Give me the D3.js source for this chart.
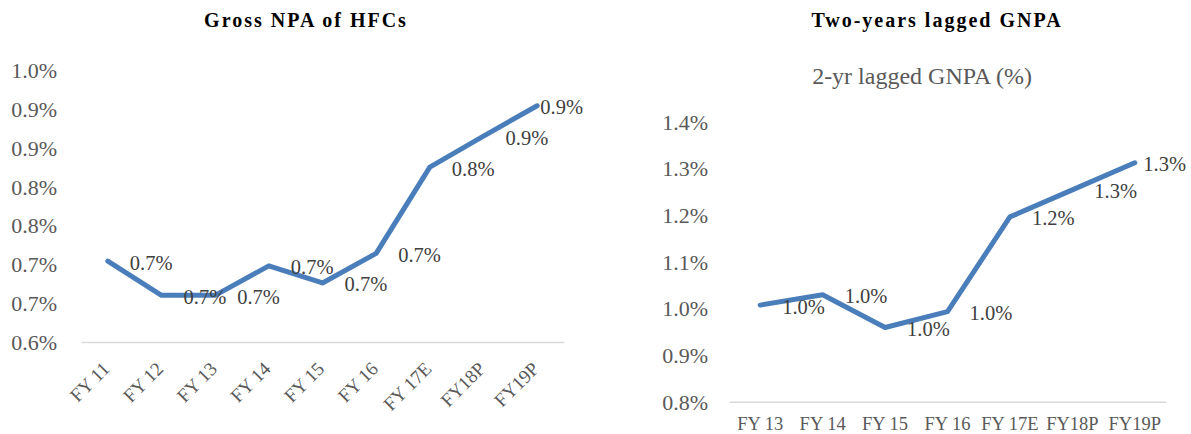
<!DOCTYPE html>
<html>
<head>
<meta charset="utf-8">
<script src="https://cdn.jsdelivr.net/npm/d3@7"></script>
<style>
  body { margin: 0; background: #fff; }
  svg text { font-family: "Liberation Serif", "DejaVu Serif", serif; }
</style>
</head>
<body>
<div id="chart"></div>
<script>
/* data */
const leftCategories = ["FY 11", "FY 12", "FY 13", "FY 14", "FY 15", "FY 16", "FY 17E", "FY18P", "FY19P"];
const leftValues = [0.704, 0.66, 0.66, 0.698, 0.676, 0.714, 0.825, 0.865, 0.904];
const leftTicks = [0.6, 0.65, 0.7, 0.75, 0.8, 0.85, 0.9, 0.95];
const leftTickLabels = ["0.6%", "0.7%", "0.7%", "0.8%", "0.8%", "0.9%", "0.9%", "1.0%"];

const rightCategories = ["FY 13", "FY 14", "FY 15", "FY 16", "FY 17E", "FY18P", "FY19P"];
const rightValues = [1.007, 1.029, 0.959, 0.993, 1.196, 1.254, 1.312];
const rightTicks = [0.8, 0.9, 1.0, 1.1, 1.2, 1.3, 1.4];
const rightTickLabels = ["0.8%", "0.9%", "1.0%", "1.1%", "1.2%", "1.3%", "1.4%"];

const width = 1191;
const height = 434;
const lineColor = "#4a7ebb";
const tickColor = "#595959";
const labelColor = "#404040";
const serif = "'Liberation Serif', 'DejaVu Serif', serif";
const fmt = d3.format(".1f");

const svg = d3
  .select("#chart")
  .append("svg")
  .attr("width", width)
  .attr("height", height)
  .attr("font-family", serif);

svg.append("rect").attr("width", width).attr("height", height).attr("fill", "#fff");

function drawPanel(opts) {
  const x = d3
    .scaleBand()
    .domain(opts.categories)
    .range(opts.xRange)
    .paddingInner(0)
    .paddingOuter(0);
  const y = d3.scaleLinear().domain(opts.yDomain).range(opts.yRange);

  /* title */
  svg
    .append("text")
    .attr("x", opts.titleX)
    .attr("y", 27)
    .attr("text-anchor", "middle")
    .style("font-size", "20px")
    .style("font-weight", "bold")
    .style("letter-spacing", "2px")
    .attr("fill", "#000")
    .text(opts.title);

  /* y axis labels only */
  svg
    .append("g")
    .attr("transform", `translate(${opts.yLabelX},0)`)
    .call(
      d3
        .axisLeft(y)
        .tickValues(opts.ticks)
        .tickSize(0)
        .tickPadding(0)
        .tickFormat((d, i) => opts.tickLabels[i])
    )
    .attr("font-family", serif)
    .call((g) => g.select(".domain").remove())
    .selectAll("text")
    .attr("fill", tickColor)
    .attr("dy", "0.34em")
    .style("font-size", "22px");

  /* x axis */
  const xg = svg
    .append("g")
    .attr("transform", `translate(0,${opts.yRange[0]})`)
    .call(d3.axisBottom(x).tickSize(0).tickSizeOuter(0).tickPadding(opts.xPad))
    .attr("font-family", serif);
  xg.select(".domain").attr("stroke", "#d9d9d9").attr("stroke-width", 1.5);
  const xt = xg
    .selectAll("text")
    .attr("fill", tickColor)
    .style("font-size", "18.5px");
  if (opts.rotate) {
    xt.attr("y", 0)
      .attr("dy", 0)
      .attr("text-anchor", "end")
      .style("font-size", "19px")
      .attr("transform", "translate(3,28) rotate(-45)");
  }

  /* the line */
  const cx = (d, i) => x(opts.categories[i]) + x.bandwidth() / 2;
  svg
    .append("path")
    .datum(opts.values)
    .attr("fill", "none")
    .attr("stroke", lineColor)
    .attr("stroke-width", 5)
    .attr("stroke-linejoin", "round")
    .attr("stroke-linecap", "round")
    .attr("d", d3.line().x(cx).y((d) => y(d)));

  /* data labels, right of each point, pulled back inside the chart area */
  svg
    .append("g")
    .selectAll("text")
    .data(opts.values)
    .enter()
    .append("text")
    .attr("y", (d) => y(d) + 1.5)
    .attr("dy", "0.34em")
    .attr("fill", labelColor)
    .style("font-size", "20.5px")
    .text((d) => fmt(d) + "%")
    .attr("x", function (d, i) {
      const w = this.getComputedTextLength();
      return Math.min(cx(d, i) + 22, opts.labelLimit - w);
    });
}

drawPanel({
  categories: leftCategories,
  values: leftValues,
  ticks: leftTicks,
  tickLabels: leftTickLabels,
  xRange: [81, 564],
  yDomain: [0.6, 0.95],
  yRange: [342, 70],
  yLabelX: 57,
  xPad: 0,
  rotate: true,
  labelLimit: 583,
  title: "Gross NPA of HFCs",
  titleX: 306,
});

drawPanel({
  categories: rightCategories,
  values: rightValues,
  ticks: rightTicks,
  tickLabels: rightTickLabels,
  xRange: [729, 1166],
  yDomain: [0.8, 1.4],
  yRange: [401.7, 121.7],
  yLabelX: 708,
  xPad: 15,
  rotate: false,
  labelLimit: 1186,
  title: "Two-years lagged GNPA",
  titleX: 937,
});

/* subtitle on the right panel */
svg
  .append("text")
  .attr("x", 922)
  .attr("y", 84)
  .attr("text-anchor", "middle")
  .attr("fill", tickColor)
  .style("font-size", "24px")
  .text("2-yr lagged GNPA (%)");
</script>
</body>
</html>
